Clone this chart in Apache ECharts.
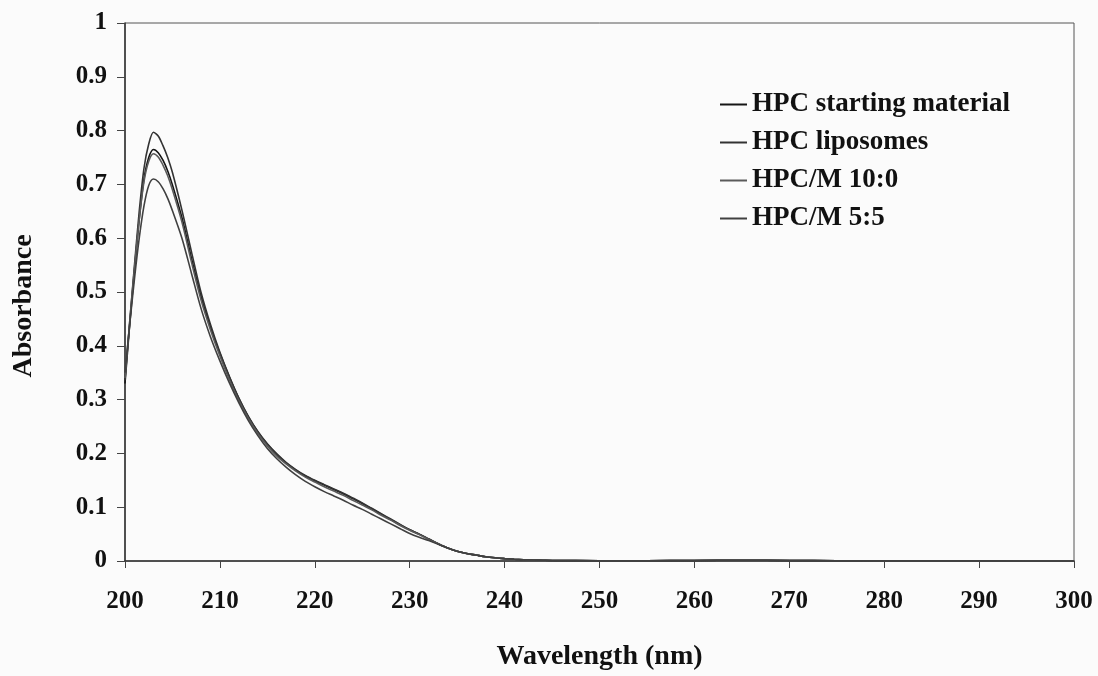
<!DOCTYPE html>
<html>
<head>
<meta charset="utf-8">
<script src="https://cdn.jsdelivr.net/npm/echarts@6/dist/echarts.min.js"></script>
<style>
html,body{margin:0;padding:0;background:#fbfbfb;}
#c{width:1098px;height:676px;}
</style>
</head>
<body>
<div id="c"></div>
<script>
const wavelengths = [200,200.5,201,201.5,202,202.5,203,203.5,204,204.5,205,206,207,208,209,210,211,212,213,214,215,216,217,218,219,220,221,222,223,224,225,226,227,228,229,230,231,232,233,234,235,236,237,238,239,240,241,242,243,244,245,250,255,260,265,270,275,280,285,290,295,300];

const hpcStarting = [0.33,0.44,0.54,0.635,0.71,0.75,0.765,0.759,0.745,0.725,0.699,0.638,0.563,0.492,0.435,0.386,0.342,0.302,0.268,0.24,0.217,0.198,0.182,0.169,0.158,0.149,0.141,0.133,0.125,0.116,0.107,0.097,0.087,0.077,0.067,0.058,0.05,0.041,0.032,0.024,0.018,0.014,0.011,0.008,0.006,0.0045,0.0033,0.0024,0.0018,0.0014,0.001,0.0005,0.0005,0.001,0.0015,0.001,0.0005,0.0003,0.0002,0.0002,0.0001,0];

const hpcLiposomes = [0.336,0.445,0.55,0.65,0.73,0.775,0.797,0.79,0.772,0.75,0.722,0.652,0.575,0.5,0.44,0.388,0.343,0.303,0.269,0.241,0.218,0.199,0.183,0.17,0.159,0.15,0.142,0.134,0.126,0.117,0.108,0.098,0.088,0.078,0.068,0.058,0.05,0.041,0.032,0.024,0.018,0.014,0.011,0.008,0.006,0.0045,0.0033,0.0024,0.0018,0.0014,0.001,0.0005,0.0005,0.001,0.0015,0.001,0.0005,0.0003,0.0002,0.0002,0.0001,0];

const hpcM100 = [0.34,0.445,0.545,0.635,0.705,0.743,0.757,0.751,0.736,0.716,0.69,0.63,0.556,0.486,0.43,0.381,0.337,0.298,0.265,0.237,0.214,0.195,0.18,0.167,0.156,0.147,0.138,0.13,0.122,0.113,0.104,0.095,0.085,0.076,0.066,0.057,0.049,0.04,0.032,0.024,0.018,0.014,0.011,0.008,0.006,0.0045,0.0033,0.0024,0.0018,0.0014,0.001,0.0005,0.0005,0.001,0.0015,0.001,0.0005,0.0003,0.0002,0.0002,0.0001,0];

const hpcM55 = [0.35,0.44,0.525,0.6,0.66,0.698,0.71,0.705,0.692,0.674,0.651,0.6,0.535,0.47,0.417,0.372,0.331,0.294,0.261,0.233,0.209,0.19,0.174,0.16,0.148,0.138,0.129,0.121,0.113,0.104,0.096,0.087,0.078,0.069,0.06,0.051,0.044,0.038,0.031,0.024,0.018,0.014,0.011,0.008,0.006,0.0045,0.0033,0.0024,0.0018,0.0014,0.001,0.0005,0.0005,0.001,0.0015,0.001,0.0005,0.0003,0.0002,0.0002,0.0001,0];

const seriesNames = ['HPC starting material','HPC liposomes','HPC/M 10:0','HPC/M 5:5'];
const seriesValues = [hpcStarting, hpcLiposomes, hpcM100, hpcM55];
const seriesColors = ['#151515','#333333','#5a5a5a','#404040'];

const font = 'Liberation Serif, Times New Roman, serif';

const chart = echarts.init(document.getElementById('c'));
chart.setOption({
  backgroundColor: '#fbfbfb',
  animation: false,
  grid: {left:125, right:24, top:23, bottom:115, show:true, borderColor:'#555', borderWidth:1, backgroundColor:'transparent'},
  legend: {
    orient:'vertical', left:715, top:86, itemWidth:27, itemHeight:2, itemGap:11,
    icon:'rect',
    textStyle:{fontFamily:font, fontWeight:'bold', fontSize:27, color:'#111'},
    data: seriesNames
  },
  xAxis: {
    type:'value', min:200, max:300, interval:10,
    name:'Wavelength (nm)', nameLocation:'middle', nameGap:82,
    nameTextStyle:{fontFamily:font, fontWeight:'bold', fontSize:28, color:'#111'},
    axisLine:{lineStyle:{color:'#333', width:1.5}},
    axisTick:{inside:false, length:7, lineStyle:{color:'#444'}},
    axisLabel:{fontFamily:font, fontWeight:'bold', fontSize:25, color:'#111', margin:28},
    splitLine:{show:false}
  },
  yAxis: {
    type:'value', min:0, max:1, interval:0.1,
    name:'Absorbance', nameLocation:'middle', nameGap:87,
    nameTextStyle:{fontFamily:font, fontWeight:'bold', fontSize:28, color:'#111', padding:[0,28,0,0]},
    axisLine:{lineStyle:{color:'#333', width:1.5}},
    axisTick:{inside:false, length:8, lineStyle:{color:'#444'}},
    axisLabel:{fontFamily:font, fontWeight:'bold', fontSize:25, color:'#111', margin:18},
    splitLine:{show:false}
  },
  series: seriesNames.map((n,i)=>({
    name:n, type:'line', showSymbol:false, smooth:0.3,
    lineStyle:{color:seriesColors[i], width:1.6},
    itemStyle:{color:seriesColors[i]},
    data: wavelengths.map((w,j)=>[w, seriesValues[i][j]])
  }))
});
</script>
</body>
</html>
